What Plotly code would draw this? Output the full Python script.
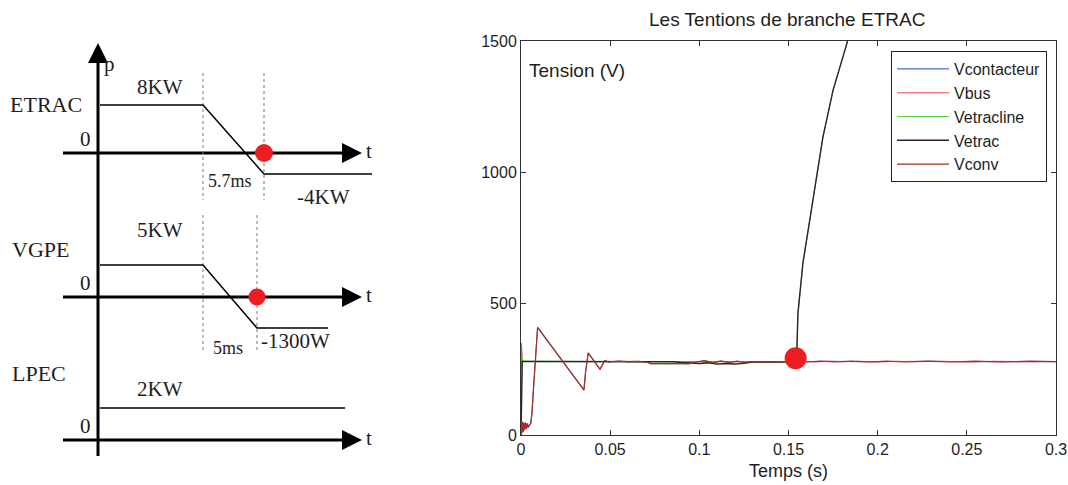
import plotly.graph_objects as go

# ---------------- Branch voltages (right panel) ----------------
# time in s, voltage in V
t_contacteur = [0, 0.0003, 0.0006, 0.0009, 0.0012, 0.0016, 0.002, 0.0025, 0.003, 0.0035,
                0.004, 0.0047, 0.0055, 0.0062, 0.0068, 0.0074, 0.008, 0.0087, 0.0093,
                0.0098, 0.0353, 0.0362, 0.0377, 0.0443, 0.047, 0.049, 0.055, 0.06,
                0.066, 0.071, 0.073, 0.08, 0.088, 0.094, 0.099, 0.103, 0.108, 0.112,
                0.117, 0.121, 0.126, 0.13, 0.14, 0.15, 0.16, 0.175, 0.19, 0.21, 0.23,
                0.25, 0.27, 0.3]
v_contacteur = [0, 50, 10, 46, 14, 44, 20, 46, 24, 42, 30, 38, 44, 88, 158, 228, 298,
                368, 408, 404, 172, 238, 312, 251, 283, 279, 281, 279, 280, 277, 273,
                272, 273, 272, 279, 282, 276, 281, 276, 280, 277, 279, 278, 279, 280,
                281, 279, 280, 281, 279, 280, 279]

t_bus = [0, 0.0002, 0.0008, 0.0015, 0.05, 0.1, 0.15, 0.158, 0.165, 0.172, 0.18, 0.19,
         0.2, 0.21, 0.22, 0.235, 0.25, 0.265, 0.28, 0.3]
v_bus = [0, 350, 282, 280, 280, 279, 279, 281, 278, 281, 279, 281, 278, 281, 279, 281,
         278, 281, 279, 280]

t_etracline = [0, 0.0005, 0.0008, 0.0013, 0.05, 0.07, 0.072, 0.085, 0.09, 0.1, 0.105,
               0.11, 0.115, 0.12, 0.125, 0.13, 0.1545, 0.1547, 0.1553, 0.1581, 0.1621,
               0.1649, 0.1693, 0.175, 0.1828, 0.19]
v_etracline = [0, 300, 292, 281, 280, 279, 271, 271, 274, 272, 277, 271, 274, 270, 275,
               279, 279, 336, 464, 655, 830, 959, 1134, 1313, 1492, 1700]

t_etrac = [0, 0.0007, 0.0012, 0.05, 0.085, 0.09, 0.1, 0.105, 0.11, 0.115, 0.12, 0.125,
           0.13, 0.1545, 0.1547, 0.1553, 0.1581, 0.1621, 0.1649, 0.1693, 0.175, 0.1828,
           0.19]
v_etrac = [0, 280, 280, 280, 279, 276, 272, 275, 270, 272, 270, 273, 278, 279, 336, 464,
           655, 830, 959, 1134, 1313, 1492, 1700]

t_conv = [0, 0.0003, 0.0006, 0.0009, 0.0012, 0.0016, 0.002, 0.0025, 0.003, 0.0035,
          0.004, 0.0047, 0.0055, 0.0062, 0.0068, 0.0074, 0.008, 0.0087, 0.0093, 0.0098,
          0.0353, 0.0362, 0.0377, 0.0443, 0.047, 0.049, 0.055, 0.06, 0.066, 0.071, 0.073,
          0.08, 0.088, 0.094, 0.099, 0.103, 0.108, 0.112, 0.117, 0.121, 0.126, 0.13,
          0.14, 0.15, 0.16, 0.168, 0.176, 0.185, 0.195, 0.205, 0.215, 0.228, 0.24, 0.255,
          0.27, 0.285, 0.3]
v_conv = [0, 55, 8, 50, 12, 46, 18, 48, 22, 44, 28, 40, 45, 90, 160, 230, 300, 370, 410,
          406, 171, 240, 313, 250, 284, 278, 281, 279, 280, 277, 272, 272, 273, 271, 279,
          283, 275, 282, 276, 281, 277, 279, 278, 280, 278, 281, 278, 281, 278, 281, 278,
          281, 278, 281, 278, 281, 279]

series_names = ["Vcontacteur", "Vbus", "Vetracline", "Vetrac", "Vconv"]
series_t = [t_contacteur, t_bus, t_etracline, t_etrac, t_conv]
series_v = [v_contacteur, v_bus, v_etracline, v_etrac, v_conv]
series_colors = ["#4a6bd0", "#f04848", "#5ad23a", "#262626", "#a5301f"]
series_widths = [1.1, 1.1, 1.0, 1.4, 1.2]

# instant marked on the chart
mark_t = [0.154]
mark_v = [292]

x_ticks = [0, 0.05, 0.1, 0.15, 0.2, 0.25, 0.3]
x_tick_labels = ["0", "0.05", "0.1", "0.15", "0.2", "0.25", "0.3"]
y_ticks = [0, 500, 1000, 1500]
y_tick_labels = ["0", "500", "1000", "1500"]

# ---------------- Power profile schematic (left panel) ----------------
# schematic units; each panel has its own zero line
panel_names = ["ETRAC", "VGPE", "LPEC"]
panel_zero = [153, 297, 440]
profile_t = [[100, 203, 264, 372], [100, 203, 257, 328], [100, 345]]
profile_p = [[48, 48, -21, -21], [32, 32, -31, -31], [32, 32]]
switch_t = [[203, 264], [203, 257], []]
switch_labels = ["5.7ms", "5ms", ""]
level_labels = [["8KW", "-4KW"], ["5KW", "-1300W"], ["2KW"]]
event_t = [264, 257]

W, H = 1068, 485
SERIF = "Liberation Serif, Times New Roman, serif"
SANS = "Liberation Sans, Arial, Helvetica, sans-serif"
INK = "#1e1e1e"

fig = go.Figure()

# --- schematic axes ---
axis_x0, axis_tip = 63, 362
vert_x, vert_bottom, vert_tip = 98, 456, 43
for z in panel_zero:
    fig.add_trace(go.Scatter(x=[axis_x0, axis_tip - 8], y=[z, z], mode="lines",
                             line=dict(color="black", width=3), xaxis="x", yaxis="y",
                             showlegend=False, hoverinfo="skip"))
    fig.add_trace(go.Scatter(x=[axis_tip], y=[z], mode="markers",
                             marker=dict(symbol="arrow-right", size=20, color="black",
                                         opacity=1, line=dict(width=0)),
                             xaxis="x", yaxis="y", showlegend=False, hoverinfo="skip"))
fig.add_trace(go.Scatter(x=[vert_x, vert_x], y=[vert_bottom, vert_tip + 8], mode="lines",
                         line=dict(color="black", width=3), xaxis="x", yaxis="y",
                         showlegend=False, hoverinfo="skip"))
fig.add_trace(go.Scatter(x=[vert_x], y=[vert_tip], mode="markers",
                         marker=dict(symbol="arrow-up", size=20, color="black",
                                     opacity=1, line=dict(width=0)),
                         xaxis="x", yaxis="y", showlegend=False, hoverinfo="skip"))

# dotted switching instants
dot_spans = [(73, 200), (215, 350)]
for i, ts in enumerate(switch_t):
    for tx in ts:
        fig.add_trace(go.Scatter(x=[tx, tx], y=list(dot_spans[i]), mode="lines",
                                 line=dict(color="#777777", width=1, dash="dot"),
                                 xaxis="x", yaxis="y", showlegend=False,
                                 hoverinfo="skip"))

# power profiles
for z, ts, ps in zip(panel_zero, profile_t, profile_p):
    fig.add_trace(go.Scatter(x=ts, y=[z - p for p in ps], mode="lines",
                             line=dict(color="black", width=1.5), xaxis="x", yaxis="y",
                             showlegend=False, hoverinfo="skip"))

# event markers on the zero lines
fig.add_trace(go.Scatter(x=event_t, y=panel_zero[:2], mode="markers",
                         marker=dict(color="#ee1d23", size=[18, 17], opacity=1,
                                     line=dict(width=0)),
                         xaxis="x", yaxis="y", showlegend=False, hoverinfo="skip"))

# schematic text
def dtext(x, y, s, size=21, anchor="center"):
    fig.add_annotation(x=x, y=y, xref="x", yref="y", text=s, showarrow=False,
                       xanchor=anchor, yanchor="middle",
                       font=dict(family=SERIF, size=size, color=INK))

name_pos = [(8, 104), (10, 249), (10, 373)]
for (x, y), s in zip(name_pos, panel_names):
    dtext(x, y, s, size=22, anchor="left")
for z in panel_zero:
    dtext(85, z - 14, "0")
    dtext(369, z - 2, "t")
dtext(109, 64, "p")
level_pos = [[(160, 87), (323, 197)], [(160, 230), (295, 341)], [(160, 389)]]
for poss, labs in zip(level_pos, level_labels):
    for (x, y), s in zip(poss, labs):
        dtext(x, y, s)
switch_pos = [(230, 181), (228, 348)]
for (x, y), s in zip(switch_pos, switch_labels[:2]):
    dtext(x, y, s, size=18)

# --- voltage chart ---
for name, ts, vs, c, w in zip(series_names, series_t, series_v, series_colors,
                              series_widths):
    fig.add_trace(go.Scatter(x=ts, y=vs, mode="lines", name=name, legendgroup=name,
                             line=dict(color=c, width=w), xaxis="x2", yaxis="y2"))
fig.add_trace(go.Scatter(x=mark_t, y=mark_v, mode="markers", showlegend=False,
                         marker=dict(color="#ee1d23", size=22, opacity=1,
                                     line=dict(width=0)),
                         xaxis="x2", yaxis="y2", hoverinfo="skip"))

px0, px1, py_top, py_bot = 521, 1056, 41, 435
fig.update_layout(
    width=W, height=H,
    margin=dict(l=0, r=0, t=0, b=0, pad=0, autoexpand=False),
    paper_bgcolor="white", plot_bgcolor="white",
    xaxis=dict(domain=[0, 380 / W], range=[0, 380], visible=False, fixedrange=True,
               automargin=False),
    yaxis=dict(domain=[0, 1], range=[H, 0], visible=False, fixedrange=True,
               automargin=False),
    xaxis2=dict(domain=[px0 / W, px1 / W], range=[0, 0.3], anchor="y2",
                tickvals=x_ticks, ticktext=x_tick_labels, ticks="inside", ticklen=5,
                tickcolor="#333", showline=True, linecolor="#333", linewidth=1,
                mirror="allticks", showgrid=False, zeroline=False, automargin=False,
                tickfont=dict(family=SANS, size=16, color=INK)),
    yaxis2=dict(domain=[(H - py_bot) / H, (H - py_top) / H], range=[0, 1500],
                anchor="x2", tickvals=y_ticks, ticktext=y_tick_labels, ticks="inside",
                ticklen=5, tickcolor="#333", showline=True, linecolor="#333",
                linewidth=1, mirror="allticks", showgrid=False, zeroline=False,
                automargin=False, tickfont=dict(family=SANS, size=16, color=INK)),
    legend=dict(x=891 / W, y=(H - 51) / H, xanchor="left", yanchor="top",
                bgcolor="white", bordercolor="#222", borderwidth=1,
                font=dict(family=SANS, size=16, color=INK), itemwidth=52,
                traceorder="grouped", tracegroupgap=0),
    showlegend=True,
)

fig.add_annotation(x=787 / W, y=(H - 20) / H, xref="paper", yref="paper",
                   text="Les Tentions de branche ETRAC", showarrow=False,
                   xanchor="center", yanchor="middle",
                   font=dict(family=SANS, size=19, color=INK))
fig.add_annotation(x=527 / W, y=(H - 70) / H, xref="paper", yref="paper",
                   text="Tension (V)", showarrow=False, xanchor="left", yanchor="middle",
                   font=dict(family=SANS, size=19, color=INK))
fig.add_annotation(x=788 / W, y=(H - 471) / H, xref="paper", yref="paper",
                   text="Temps (s)", showarrow=False, xanchor="center", yanchor="middle",
                   font=dict(family=SANS, size=18, color=INK))

fig.write_html("out.html")
